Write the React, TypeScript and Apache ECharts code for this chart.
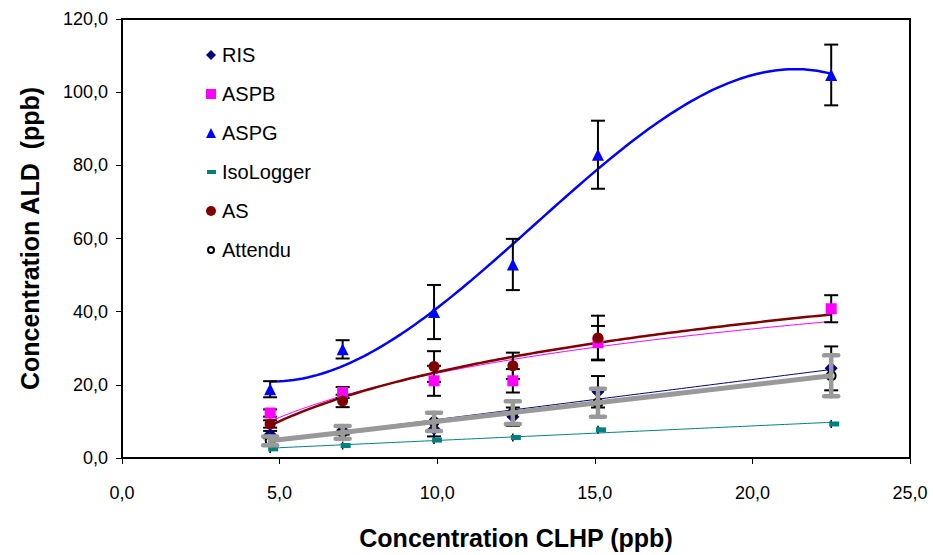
import React, { useEffect, useRef } from 'react';
import * as echarts from 'echarts';

// ---- data ----
const xValues = [4.7, 7.0, 9.9, 12.4, 15.1, 22.5];
const xValuesAS = [4.7, 7.0, 9.9, 12.4, 15.1];

const risValues = [6.4, 7.6, 7.9, 11.3, 18.1, 24.5];
const risErrors = [1.0, 1.2, 2.0, 2.5, 4.3, 6.0];

const aspbValues = [12.3, 17.9, 21.1, 21.1, 31.5, 40.8];
const aspbErrors = [1.0, 1.5, 4.1, 3.2, 4.6, 3.7];

const aspgValues = [18.8, 29.7, 39.9, 52.9, 82.9, 104.7];
const aspgErrors = [2.2, 2.5, 7.4, 7.0, 9.3, 8.3];

const isoValues = [2.5, 3.4, 4.9, 5.6, 7.7, 9.3];
const isoErrors = [1.1, 1.1, 1.1, 1.1, 1.1, 1.1];

const asValues = [9.3, 15.6, 25.0, 25.2, 32.8];
const asErrors = [1.0, 1.7, 4.2, 3.6, 6.1];

const attenduValues = [4.7, 7.0, 9.9, 12.4, 15.1, 22.5];
const attenduErrors = [1.2, 1.75, 2.5, 3.1, 3.8, 5.6];

const xAxisTitle = 'Concentration CLHP (ppb)';
const yAxisTitle = 'Concentration ALD  (ppb)';

const FONT = 'Liberation Sans, Arial, sans-serif';

// ---- trend line fitting (least squares, like spreadsheet trendlines) ----
function solve(A: number[][], b: number[]): number[] {
  const n = b.length;
  const M = A.map((row, i) => [...row, b[i]]);
  for (let c = 0; c < n; c++) {
    let p = c;
    for (let r = c + 1; r < n; r++) if (Math.abs(M[r][c]) > Math.abs(M[p][c])) p = r;
    [M[c], M[p]] = [M[p], M[c]];
    for (let r = 0; r < n; r++) {
      if (r === c) continue;
      const f = M[r][c] / M[c][c];
      for (let k = c; k <= n; k++) M[r][k] -= f * M[c][k];
    }
  }
  return M.map((row, i) => row[n] / row[i]);
}

function polyFit(xs: number[], ys: number[], deg: number): number[] {
  const n = deg + 1;
  const A: number[][] = [];
  const b: number[] = [];
  for (let i = 0; i < n; i++) {
    A.push([]);
    for (let j = 0; j < n; j++) {
      A[i].push(xs.reduce((s, x) => s + Math.pow(x, i + j), 0));
    }
    b.push(xs.reduce((s, x, k) => s + Math.pow(x, i) * ys[k], 0));
  }
  return solve(A, b);
}

function trendPoints(
  xs: number[],
  ys: number[],
  kind: 'linear' | 'log' | 'poly3',
  xEnd: number
): number[][] {
  let f: (x: number) => number;
  if (kind === 'log') {
    const c = polyFit(xs.map(Math.log), ys, 1);
    f = (x) => c[0] + c[1] * Math.log(x);
  } else {
    const c = polyFit(xs, ys, kind === 'poly3' ? 3 : 1);
    f = (x) => c.reduce((s, a, i) => s + a * Math.pow(x, i), 0);
  }
  const x0 = xs[0];
  const pts: number[][] = [];
  const N = 120;
  for (let i = 0; i <= N; i++) {
    const x = x0 + ((xEnd - x0) * i) / N;
    pts.push([x, f(x)]);
  }
  return pts;
}

function errorSeries(
  id: string,
  xs: number[],
  ys: number[],
  errs: number[],
  color: string,
  width: number,
  capHalf: number,
  round: boolean,
  z: number
) {
  return {
    type: 'custom',
    id,
    silent: true,
    z,
    data: xs.map((x, i) => [x, ys[i] - errs[i], ys[i] + errs[i]]),
    encode: { x: 0, y: [1, 2] },
    renderItem: (_params: any, api: any) => {
      const x = api.value(0);
      const lo = api.coord([x, api.value(1)]);
      const hi = api.coord([x, api.value(2)]);
      const style = { stroke: color, lineWidth: width, lineCap: round ? 'round' : 'butt' };
      const children: any[] = [
        { type: 'line', shape: { x1: lo[0], y1: lo[1], x2: hi[0], y2: hi[1] }, style },
      ];
      if (capHalf > 0) {
        children.push({
          type: 'line',
          shape: { x1: lo[0] - capHalf, y1: lo[1], x2: lo[0] + capHalf, y2: lo[1] },
          style,
        });
        children.push({
          type: 'line',
          shape: { x1: hi[0] - capHalf, y1: hi[1], x2: hi[0] + capHalf, y2: hi[1] },
          style,
        });
      }
      return { type: 'group', children };
    },
  };
}

function pairs(xs: number[], ys: number[]) {
  return xs.map((x, i) => [x, ys[i]]);
}

export default function App() {
  const ref = useRef<HTMLDivElement>(null);

  useEffect(() => {
    if (!ref.current) return;
    const chart = echarts.init(ref.current, undefined, { renderer: 'svg' });
    const xEnd = 22.5;

    const option: any = {
      animation: false,
      backgroundColor: '#fff',
      grid: {
        left: 122,
        right: 23,
        top: 19,
        bottom: 96,
        show: true,
        borderColor: '#000',
        borderWidth: 2,
      },
      legend: {
        orient: 'vertical',
        left: 199,
        top: 40,
        itemWidth: 12,
        itemHeight: 12,
        itemGap: 19,
        textStyle: { fontSize: 20, color: '#000', fontFamily: FONT },
        data: [
          { name: 'RIS', icon: 'path://M0,0M6,1L11,6L6,11L1,6zM12,12', itemStyle: { color: '#000080' } },
          { name: 'ASPB', icon: 'path://M0,0M1,1h10v10h-10zM12,12', itemStyle: { color: '#FF00FF' } },
          { name: 'ASPG', icon: 'path://M0,0M6,1L11,11L1,11zM12,12', itemStyle: { color: '#0000FF' } },
          { name: 'IsoLogger', icon: 'path://M0,0M2,4h9v4h-9zM12,12', itemStyle: { color: '#008080' } },
          { name: 'AS', icon: 'path://M0,0M1,6a5,5 0 1,0 10,0a5,5 0 1,0 -10,0zM12,12', itemStyle: { color: '#800000' } },
          {
            name: 'Attendu',
            icon: 'path://M0,0M3,6a3,3 0 1,0 6,0a3,3 0 1,0 -6,0zM12,12',
            itemStyle: { color: '#fff', borderColor: '#000', borderWidth: 2 },
          },
        ],
      },
      xAxis: {
        type: 'value',
        min: 0,
        max: 25,
        interval: 5,
        name: xAxisTitle,
        nameLocation: 'middle',
        nameGap: 67,
        nameTextStyle: { fontSize: 25, fontWeight: 'bold', color: '#000', fontFamily: FONT },
        axisLine: { lineStyle: { color: '#000', width: 2 } },
        axisTick: { show: true, length: 6, lineStyle: { color: '#000', width: 1 } },
        axisLabel: {
          margin: 26,
          fontSize: 18,
          color: '#000',
          fontFamily: FONT,
          formatter: (v: number) => v.toFixed(1).replace('.', ','),
        },
        splitLine: { show: false },
      },
      yAxis: {
        type: 'value',
        min: 0,
        max: 120,
        interval: 20,
        name: yAxisTitle,
        nameLocation: 'middle',
        nameGap: 80,
        nameTextStyle: { fontSize: 25, fontWeight: 'bold', color: '#000', fontFamily: FONT },
        axisLine: { lineStyle: { color: '#000', width: 2 } },
        axisTick: { show: true, length: 6, lineStyle: { color: '#000', width: 1 } },
        axisLabel: {
          margin: 14,
          fontSize: 18,
          color: '#000',
          fontFamily: FONT,
          formatter: (v: number) => v.toFixed(1).replace('.', ','),
        },
        splitLine: { show: false },
      },
      series: [
        // trend lines
        {
          type: 'line', id: 'ris-trend', data: trendPoints(xValues, risValues, 'linear', xEnd),
          showSymbol: false, silent: true, lineStyle: { color: '#000080', width: 1 }, z: 2,
        },
        {
          type: 'line', id: 'aspb-trend', data: trendPoints(xValues, aspbValues, 'log', xEnd),
          showSymbol: false, silent: true, lineStyle: { color: '#FF00FF', width: 1 }, z: 2,
        },
        {
          type: 'line', id: 'aspg-trend', data: trendPoints(xValues, aspgValues, 'poly3', xEnd),
          showSymbol: false, silent: true, lineStyle: { color: '#0000FF', width: 2.5 }, z: 2,
        },
        {
          type: 'line', id: 'iso-trend', data: trendPoints(xValues, isoValues, 'linear', xEnd),
          showSymbol: false, silent: true, lineStyle: { color: '#008080', width: 1 }, z: 2,
        },
        {
          type: 'line', id: 'as-trend', data: trendPoints(xValuesAS, asValues, 'log', xEnd),
          showSymbol: false, silent: true, lineStyle: { color: '#800000', width: 2.5 }, z: 2,
        },
        // error bars
        errorSeries('ris-err', xValues, risValues, risErrors, '#000', 2, 7, false, 3),
        errorSeries('aspb-err', xValues, aspbValues, aspbErrors, '#000', 2, 7, false, 3),
        errorSeries('aspg-err', xValues, aspgValues, aspgErrors, '#000', 2, 7, false, 3),
        errorSeries('iso-err', xValues, isoValues, isoErrors, '#000', 1.5, 0, false, 3),
        errorSeries('as-err', xValuesAS, asValues, asErrors, '#000', 2, 7, false, 3),
        // markers
        {
          type: 'scatter', name: 'RIS', data: pairs(xValues, risValues), symbol: 'diamond',
          symbolSize: 13, itemStyle: { color: '#000080', opacity: 1 }, z: 4,
        },
        {
          type: 'scatter', name: 'ASPB', data: pairs(xValues, aspbValues), symbol: 'rect',
          symbolSize: 11, itemStyle: { color: '#FF00FF', opacity: 1 }, z: 4,
        },
        {
          type: 'scatter', name: 'ASPG', data: pairs(xValues, aspgValues), symbol: 'triangle',
          symbolSize: 12, itemStyle: { color: '#0000FF', opacity: 1 }, z: 4,
        },
        {
          type: 'scatter', name: 'IsoLogger', data: pairs(xValues, isoValues), symbol: 'rect',
          symbolSize: [10, 5], symbolOffset: [3, 0], itemStyle: { color: '#008080', opacity: 1 }, z: 4,
        },
        {
          type: 'scatter', name: 'AS', data: pairs(xValuesAS, asValues), symbol: 'circle',
          symbolSize: 11, itemStyle: { color: '#800000', opacity: 1 }, z: 4,
        },
        {
          type: 'scatter', name: 'Attendu', data: pairs(xValues, attenduValues), symbol: 'circle',
          symbolSize: 9,
          itemStyle: { color: 'rgba(255,255,255,0)', borderColor: '#000', borderWidth: 2, opacity: 1 },
          z: 4,
        },
        // expected line and its ±25 % bars, drawn on top
        {
          type: 'line', id: 'attendu-line', data: pairs(xValues, attenduValues),
          showSymbol: false, silent: true,
          lineStyle: { color: '#999999', width: 5 },
          z: 5,
        },
        errorSeries('att-err', xValues, attenduValues, attenduErrors, '#999999', 4.5, 7, true, 5),
      ],
    };

    chart.setOption(option);
    return () => chart.dispose();
  }, []);

  return (
    <div
      ref={ref}
      style={{ position: 'fixed', left: 0, top: 0, width: 933, height: 555 }}
    />
  );
}
